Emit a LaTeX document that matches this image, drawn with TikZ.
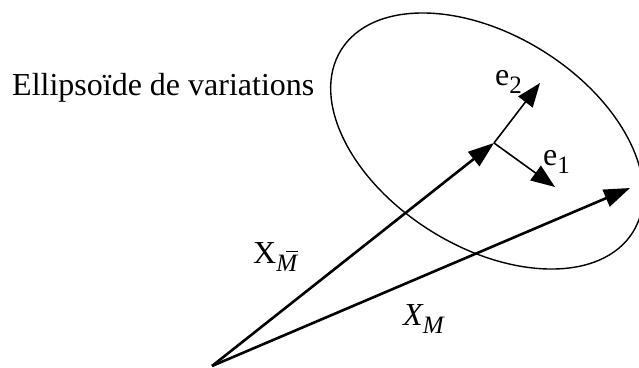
\documentclass[tikz,border=0pt]{standalone}
\usepackage{fontspec}
\setmainfont{Liberation Serif}
\usetikzlibrary{arrows.meta}
\tikzset{
  lbl/.style={anchor=base west, inner sep=0pt, font=\fontsize{32}{38}\selectfont},
  bigarrow/.style={line width=2.6pt, -{Triangle[length=26pt,width=18pt]}},
  smallarrow/.style={line width=1.6pt, -{Triangle[length=24pt,width=18pt]}},
  contour/.style={line width=1.4pt}
}
\newcommand{\subs}[1]{\raisebox{-8pt}{\fontsize{25}{30}\selectfont #1}}
\newcommand{\barM}{\textit{M}\llap{\raisebox{19pt}{\rule{12pt}{1.3pt}}\hspace{0pt}}}
\begin{document}
\begin{tikzpicture}[x=1pt,y=-1pt]
\useasboundingbox (0,0) rectangle (639,367);
% ellipse contour
\coordinate (ec) at (487,141);
\draw[contour, rotate around={-32:(ec)}] (ec) ellipse [x radius=172, y radius=106];
% points
\coordinate (o) at (212,366);
\coordinate (c) at (494,143);
\coordinate (m) at (630,188);
\coordinate (e1) at (555,187);
\coordinate (e2) at (540,83);
% arrows
\draw[bigarrow] (o) -- (c);
\draw[bigarrow] (o) -- (m);
\draw[smallarrow] (c) -- (e1);
\draw[smallarrow] (c) -- (e2);
% labels
\node[lbl] (title) at (12,95) {Ellipsoïde de variations};
\node[lbl] (lbar) at (253,263) {X\subs{\barM}};
\node[lbl] (lm) at (403,325) {\itshape X\subs{M}};
\node[lbl] (le1) at (543,165) {e\subs{1}};
\node[lbl] (le2) at (495,85) {e\subs{2}};
\end{tikzpicture}
\end{document}
